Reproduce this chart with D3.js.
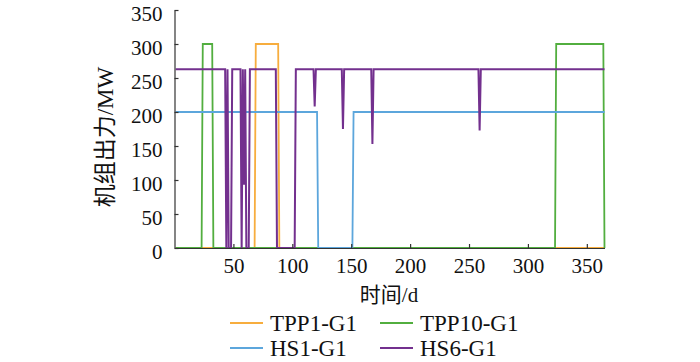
<!DOCTYPE html>
<html>
<head>
<meta charset="utf-8">
<script src="https://cdn.jsdelivr.net/npm/d3@7.9.0/dist/d3.min.js"></script>
<style>
  body { margin: 0; background: #fff; }
  svg text { font-family: "Liberation Serif", "Noto Sans CJK SC", serif; fill: #111; }
</style>
</head>
<body>
<svg id="chart" width="700" height="362"></svg>
<script>
// breakpoints [day, MW]
const tpp1 = [[1, 0], [68, 0], [69, 300], [88, 300], [89, 0], [365, 0]];
const tpp10 = [[1, 0], [23, 0], [24, 300], [32, 300], [33, 0], [323, 0], [324, 300], [364, 300], [365, 0]];
const hs1 = [[1, 200], [121, 200], [122, 0], [151, 0], [152, 200], [365, 200]];
const hs6 = [[1, 263], [43, 263], [44, 0], [45, 263], [46, 0], [48, 0], [49, 263],
  [56, 263], [57, 0], [58, 263], [59, 93], [60, 263], [61, 0], [63, 0], [64, 263],
  [86, 263], [87, 0], [102, 0], [103, 263], [118, 263], [119, 208], [120, 263],
  [142, 263], [143, 175], [144, 263], [167, 263], [168, 153], [169, 263],
  [258, 263], [259, 173], [260, 263], [365, 263]];

const seriesNames = ["TPP1-G1", "TPP10-G1", "HS1-G1", "HS6-G1"];
const seriesData = [tpp1, tpp10, hs1, hs6];
const colors = ["#f7ad3e", "#52ae3f", "#5ca6dc", "#73308e"];

const xTicks = [50, 100, 150, 200, 250, 300, 350];
const yTicks = [0, 50, 100, 150, 200, 250, 300, 350];

const svg = d3.select("#chart");

const x = d3.scaleLinear().domain([0, 365]).range([174.5, 604.5]);
const y = d3.scaleLinear().domain([0, 350]).range([248, 10]);

// lines, drawn in legend order so green covers orange at 0
const line = d3.line().x(d => x(d[0])).y(d => y(d[1]));
seriesData.forEach((s, i) => {
    svg.append("path")
        .datum(s)
        .attr("d", line)
        .attr("fill", "none")
        .attr("stroke", colors[i])
        .attr("stroke-width", i === 3 ? 2 : 1.8);
});

// axes (ticks point inward)
const xAxis = svg.append("g")
    .attr("transform", `translate(0,${y(0)})`)
    .call(d3.axisBottom(x).tickValues(xTicks).tickSizeInner(-4).tickSizeOuter(0).tickPadding(10));
const yAxis = svg.append("g")
    .attr("transform", `translate(${x(0)},0)`)
    .call(d3.axisLeft(y).tickValues(yTicks).tickSizeInner(-4).tickSizeOuter(0).tickPadding(12));

[xAxis, yAxis].forEach(g => {
    g.attr("font-family", "Liberation Serif").attr("font-size", 21);
    g.select(".domain").attr("stroke", "#333").attr("stroke-width", 1.2);
    g.selectAll(".tick line").attr("stroke", "#333").attr("stroke-width", 1.2);
    g.selectAll(".tick text").attr("fill", "#111");
});
// labels sit a little below their ticks in the reference
yAxis.selectAll(".tick text").attr("dy", "0.5em");

// axis titles
svg.append("text")
    .attr("x", 389).attr("y", 302)
    .attr("text-anchor", "middle")
    .attr("font-size", 21)
    .text("时间/d");

svg.append("text")
    .attr("transform", "translate(113,137) rotate(-90)")
    .attr("text-anchor", "middle")
    .attr("font-size", 23)
    .text("机组出力/MW");

// legend
const legendX = [230, 380];
const legendY = [323, 348];
seriesNames.forEach((name, i) => {
    const lx = legendX[i % 2], ly = legendY[Math.floor(i / 2)];
    svg.append("line")
        .attr("x1", lx).attr("x2", lx + 33)
        .attr("y1", ly).attr("y2", ly)
        .attr("stroke", colors[i]).attr("stroke-width", 1.8);
    svg.append("text")
        .attr("x", lx + 40).attr("y", ly)
        .attr("dy", "0.35em")
        .attr("font-size", 23)
        .text(name);
});
</script>
</body>
</html>
